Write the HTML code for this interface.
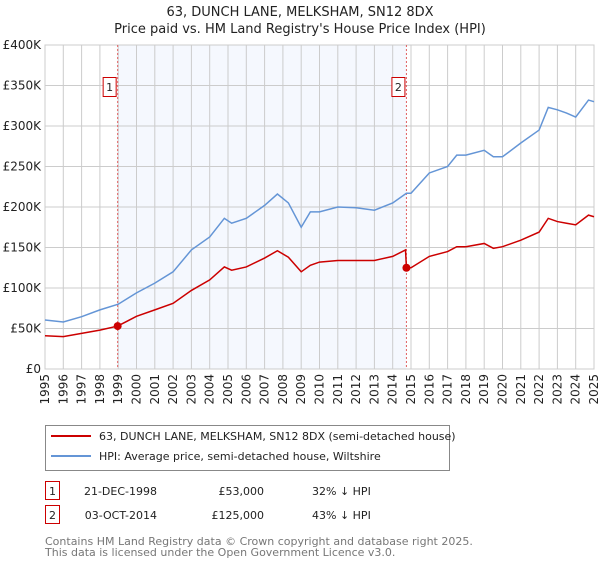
<!DOCTYPE html>
<html><head><meta charset="utf-8"><style>
body{margin:0;background:#fff;font-family:"DejaVu Sans","Liberation Sans",sans-serif;}
svg text{font-family:"DejaVu Sans","Liberation Sans",sans-serif;}
</style></head><body>
<svg id="chart" width="600" height="560" viewBox="0 0 600 560" xmlns="http://www.w3.org/2000/svg">
<text x="300" y="16" text-anchor="middle" font-size="13" fill="#222">63, DUNCH LANE, MELKSHAM, SN12 8DX</text>
<text x="300" y="33" text-anchor="middle" font-size="13" fill="#222">Price paid vs. HM Land Registry's House Price Index (HPI)</text>
<g id="plot"></g>
<g>
<rect x="45.5" y="425.5" width="404" height="45" fill="#fff" stroke="#888"/>
<line x1="51" y1="436" x2="91" y2="436" stroke="#cc0000" stroke-width="2"/>
<text x="99" y="440" font-size="11" fill="#222">63, DUNCH LANE, MELKSHAM, SN12 8DX (semi-detached house)</text>
<line x1="51" y1="456" x2="91" y2="456" stroke="#6495d6" stroke-width="2"/>
<text x="99" y="460" font-size="11" fill="#222">HPI: Average price, semi-detached house, Wiltshire</text>
</g>
<g font-size="11" fill="#222">
<rect x="45.5" y="481.5" width="14" height="18" fill="#fff" stroke="#cc0000"/>
<text x="52.5" y="495" text-anchor="middle">1</text>
<text x="157" y="495" text-anchor="end">21-DEC-1998</text>
<text x="264" y="495" text-anchor="end">£53,000</text>
<text x="312" y="495">32% ↓ HPI</text>
<rect x="45.5" y="505.5" width="14" height="18" fill="#fff" stroke="#cc0000"/>
<text x="52.5" y="519" text-anchor="middle">2</text>
<text x="157" y="519" text-anchor="end">03-OCT-2014</text>
<text x="264" y="519" text-anchor="end">£125,000</text>
<text x="312" y="519">43% ↓ HPI</text>
</g>
<text x="45" y="545" font-size="11" fill="#777">Contains HM Land Registry data © Crown copyright and database right 2025.</text>
<text x="45" y="556" font-size="11" fill="#777">This data is licensed under the Open Government Licence v3.0.</text>
</svg>
<script>
const hpiYears=[1995,1996,1997,1998,1999,2000,2001,2002,2003,2004,2004.8,2005.2,2006,2007,2007.7,2008.3,2009,2009.5,2010,2011,2012,2013,2014,2014.75,2015,2016,2017,2017.5,2018,2019,2019.5,2020,2021,2022,2022.5,2023,2023.5,2024,2024.7,2025];
const hpiValues=[60500,58000,64600,73000,80000,94000,106000,120000,147000,163000,186000,180000,186000,202000,216000,205000,175000,194000,194000,200000,199000,196000,205000,217000,217000,242000,250000,264000,264000,270000,262000,262000,279000,295000,323000,320000,316000,311000,332000,330000];
const propYears=[1995,1996,1997,1998,1998.97,2000,2001,2002,2003,2004,2004.8,2005.2,2006,2007,2007.7,2008.3,2009,2009.5,2010,2011,2012,2013,2014,2014.7,2014.75,2015,2016,2017,2017.5,2018,2019,2019.5,2020,2021,2022,2022.5,2023,2023.5,2024,2024.7,2025];
const propValues=[41000,40000,44000,48000,53000,65000,73000,81000,97000,110000,126000,122000,126000,137000,146000,138000,120000,128000,132000,134000,134000,134000,139000,147000,125000,125000,139000,145000,151000,151000,155000,149000,151000,159000,169000,186000,182000,180000,178000,190000,188000];
const saleYears=[1998.97,2014.75];
const saleValues=[53000,125000];
const saleLabels=["1","2"];
const yTicks=[0,50000,100000,150000,200000,250000,300000,350000,400000];
const yTickLabels=["£0","£50K","£100K","£150K","£200K","£250K","£300K","£350K","£400K"];
const xTicks=[1995,1996,1997,1998,1999,2000,2001,2002,2003,2004,2005,2006,2007,2008,2009,2010,2011,2012,2013,2014,2015,2016,2017,2018,2019,2020,2021,2022,2023,2024,2025];

const L=45,R=594,T=45,B=369;
const X=y=>L+(y-1995)/30*(R-L);
const Y=v=>B-v/400000*(B-T);
const NS="http://www.w3.org/2000/svg";
const g=document.getElementById('plot');
function mk(t,a,parent){const e=document.createElementNS(NS,t);for(const k in a)e.setAttribute(k,a[k]);(parent||g).appendChild(e);return e;}
let e=mk('rect',{x:L,y:T,width:R-L,height:B-T,fill:'#fff'});


e=mk('rect',{x:X(saleYears[0]),y:T,width:X(saleYears[1])-X(saleYears[0]),height:B-T,fill:'#f5f8fe'});


xTicks.forEach((t,i)=>{
 const l=mk('line',{x1:X(t),x2:X(t),y1:T,y2:B,stroke:'#ccc','stroke-width':1});
 
 
 const wrap=mk('g',{transform:'translate('+(X(t)+4)+',374) rotate(-90)'});
 const tx=mk('text',{x:0,y:0,'font-size':12,fill:'#222','text-anchor':'end'},wrap);
 tx.textContent=t;
 
 
});
yTicks.forEach((t,i)=>{
 const l=mk('line',{x1:L,x2:R,y1:Y(t),y2:Y(t),stroke:'#ccc','stroke-width':1});
 
 
 const tx=mk('text',{x:L-4,y:Y(t)+4,'font-size':12,fill:'#222','text-anchor':'end'});
 tx.textContent=yTickLabels[i];
 
 
});
e=mk('rect',{x:L,y:T,width:R-L,height:B-T,fill:'none',stroke:'#ccc'});


saleYears.forEach((s,i)=>{
 const l=mk('line',{x1:X(s),x2:X(s),y1:T,y2:B,stroke:'#e06060','stroke-dasharray':'2,2','stroke-width':1});
 
 
 const r=mk('rect',{x:X(s)-14.5,y:77.5,width:13,height:19,fill:'#fff',stroke:'#cc0000'});
 
 
 const tx=mk('text',{x:X(s)-8,y:91,'font-size':11,fill:'#222','text-anchor':'middle'});
 tx.textContent=saleLabels[i];
 
 
});
const hp=mk('polyline',{points:hpiYears.map((y,i)=>X(y)+','+Y(hpiValues[i])).join(' '),fill:'none',stroke:'#6495d6','stroke-width':1.5});


const pp=mk('polyline',{points:propYears.map((y,i)=>X(y)+','+Y(propValues[i])).join(' '),fill:'none',stroke:'#cc0000','stroke-width':1.5});


saleYears.forEach((s,i)=>{
 const c=mk('circle',{cx:X(s),cy:Y(saleValues[i]),r:4,fill:'#cc0000'});
 
 
});
</script>
</body></html>
